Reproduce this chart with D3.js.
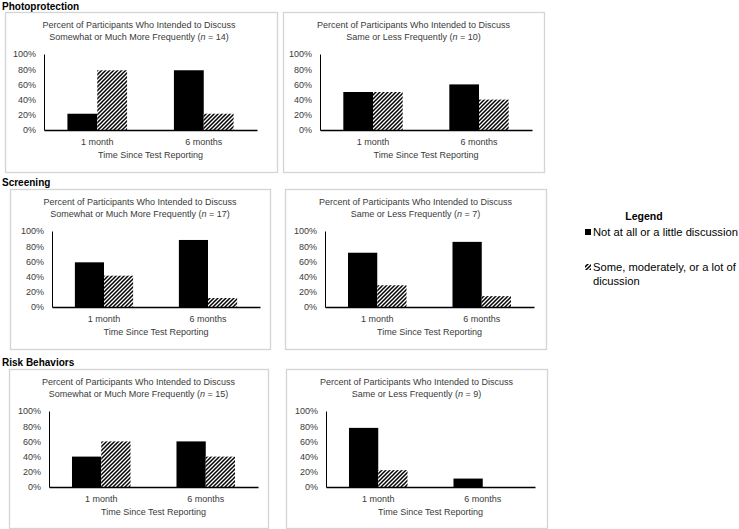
<!DOCTYPE html>
<html>
<head>
<meta charset="utf-8">
<script src="https://cdn.jsdelivr.net/npm/d3@7"></script>
<style>
  html, body { margin: 0; padding: 0; background: #fff; }
  svg { display: block; font-family: "Liberation Sans", Arial, sans-serif; }
</style>
</head>
<body>
<script>
// ---------- data ----------
const categories = ["1 month", "6 months"];
const seriesNames = ["Not at all or a little discussion", "Some, moderately, or a lot of dicussion"];
const tickValues = [0, 20, 40, 60, 80, 100];
const tickLabels = ["0%", "20%", "40%", "60%", "80%", "100%"];
const sectionTitles = ["Photoprotection", "Screening", "Risk Behaviors"];
const titleLine1 = "Percent of Participants Who Intended to Discuss";
const groupTitles = ["Somewhat or Much More Frequently", "Same or Less Frequently"];
const nValues = [14, 10, 17, 7, 15, 9];
const xAxisTitle = "Time Since Test Reporting";

const photoMoreLittle = [21.4, 78.6];
const photoMoreSome   = [78.6, 21.4];
const photoSameLittle = [50, 60];
const photoSameSome   = [50, 40];
const screenMoreLittle = [58.8, 88.2];
const screenMoreSome   = [41.2, 11.8];
const screenSameLittle = [71.4, 85.7];
const screenSameSome   = [28.6, 14.3];
const riskMoreLittle = [40, 60];
const riskMoreSome   = [60, 40];
const riskSameLittle = [77.8, 11.1];
const riskSameSome   = [22.2, 0];

const panelData = [
  [photoMoreLittle, photoMoreSome],
  [photoSameLittle, photoSameSome],
  [screenMoreLittle, screenMoreSome],
  [screenSameLittle, screenSameSome],
  [riskMoreLittle, riskMoreSome],
  [riskSameLittle, riskSameSome]
];

// ---------- layout ----------
const layout = [
  { bx: 5,   by: 12,  bw: 272, bh: 160, ax: 44,  axEnd: 257, tc: 139 },
  { bx: 283, by: 12,  bw: 261, bh: 160, ax: 320, axEnd: 532 },
  { bx: 10,  by: 189, bw: 260, bh: 160, ax: 52,  axEnd: 260 },
  { bx: 285, by: 189, bw: 261, bh: 160, ax: 325, axEnd: 534 },
  { bx: 9,   by: 369, bw: 259, bh: 159, ax: 49,  axEnd: 258 },
  { bx: 286, by: 369, bw: 261, bh: 159, ax: 326, axEnd: 535 }
];
const sectionY = [10, 186, 366];
const textColor = "#3a3a3a";

const svg = d3.select("body").append("svg").attr("width", 739).attr("height", 529);

const defs = svg.append("defs");
const pat = defs.append("pattern")
  .attr("id", "hatch")
  .attr("patternUnits", "userSpaceOnUse")
  .attr("width", 4).attr("height", 4);
pat.append("rect").attr("width", 4).attr("height", 4).attr("fill", "#fff");
pat.append("path")
  .attr("d", "M-1,1 L1,-1 M0,4 L4,0 M3,5 L5,3")
  .attr("stroke", "#000").attr("stroke-width", 1.5);

const fills = ["#000", "url(#hatch)"];

// section titles
sectionTitles.forEach((t, i) => {
  svg.append("text")
    .attr("x", 2).attr("y", sectionY[i])
    .attr("font-size", 10).attr("font-weight", "bold").attr("fill", "#000")
    .text(t);
});

layout.forEach((L, i) => {
  const g = svg.append("g");
  g.append("rect")
    .attr("x", L.bx + 0.5).attr("y", L.by + 0.5)
    .attr("width", L.bw).attr("height", L.bh)
    .attr("fill", "#fff").attr("stroke", "#d4d4d4").attr("stroke-width", 1.3);

  const cx = L.tc !== undefined ? L.tc : L.bx + L.bw / 2;
  g.append("text").attr("x", cx).attr("y", L.by + 16)
    .attr("text-anchor", "middle").attr("font-size", 9).attr("fill", textColor)
    .text(titleLine1);
  const t2 = g.append("text").attr("x", cx).attr("y", L.by + 27.5)
    .attr("text-anchor", "middle").attr("font-size", 9).attr("fill", textColor);
  t2.append("tspan").text(groupTitles[i % 2] + " (");
  t2.append("tspan").attr("font-style", "italic").text("n");
  t2.append("tspan").text(" = " + nValues[i] + ")");

  const y = d3.scaleLinear().domain([0, 100]).range([L.by + 118, L.by + 42]);
  const x0 = d3.scaleBand().domain(categories).range([L.ax, L.axEnd])
    .paddingInner(0.44).paddingOuter(0.22);
  const x1 = d3.scaleBand().domain([0, 1]).range([0, x0.bandwidth()]);

  const data = panelData[i];
  categories.forEach((c, ci) => {
    [0, 1].forEach(si => {
      const v = data[si][ci];
      if (v <= 0) return;
      g.append("rect")
        .attr("x", x0(c) + x1(si))
        .attr("y", y(v))
        .attr("width", x1.bandwidth())
        .attr("height", y(0) - y(v))
        .attr("fill", fills[si]);
    });
  });

  // y axis
  const yAxis = g.append("g").attr("transform", `translate(${L.ax},0)`)
    .call(d3.axisLeft(y).tickValues(tickValues).tickFormat((d, k) => tickLabels[k])
      .tickSize(0).tickPadding(8));
  yAxis.select(".domain").attr("stroke", "#000").attr("stroke-width", 1);
  yAxis.selectAll("text").attr("font-size", 9).attr("fill", textColor)
    .attr("font-family", "Liberation Sans, Arial, sans-serif");

  // x axis
  const xAxis = g.append("g").attr("transform", `translate(0,${y(0)})`)
    .call(d3.axisBottom(x0).tickSize(0).tickPadding(8.5));
  xAxis.select(".domain").attr("stroke", "#000").attr("stroke-width", 1.3);
  xAxis.selectAll("text").attr("font-size", 9).attr("fill", textColor)
    .attr("font-family", "Liberation Sans, Arial, sans-serif");

  g.append("text").attr("x", (L.ax + L.axEnd) / 2).attr("y", L.by + 146)
    .attr("text-anchor", "middle").attr("font-size", 9).attr("fill", textColor)
    .text(xAxisTitle);
});

// legend
const lg = svg.append("g");
lg.append("text").attr("x", 644).attr("y", 219.5).attr("text-anchor", "middle")
  .attr("font-size", 10.5).attr("font-weight", "bold").attr("fill", "#000").text("Legend");
lg.append("rect").attr("x", 585).attr("y", 229).attr("width", 6).attr("height", 6).attr("fill", fills[0]);
lg.append("text").attr("x", 593).attr("y", 236).attr("font-size", 11.2).attr("fill", "#000")
  .text(seriesNames[0]);
lg.append("rect").attr("x", 585).attr("y", 264).attr("width", 6).attr("height", 6).attr("fill", fills[1]);
const words = seriesNames[1].split(" ");
lg.append("text").attr("x", 593).attr("y", 271).attr("font-size", 11.2).attr("fill", "#000")
  .text(words.slice(0, -1).join(" "));
lg.append("text").attr("x", 593).attr("y", 285).attr("font-size", 11.2).attr("fill", "#000")
  .text(words[words.length - 1]);
</script>
</body>
</html>
